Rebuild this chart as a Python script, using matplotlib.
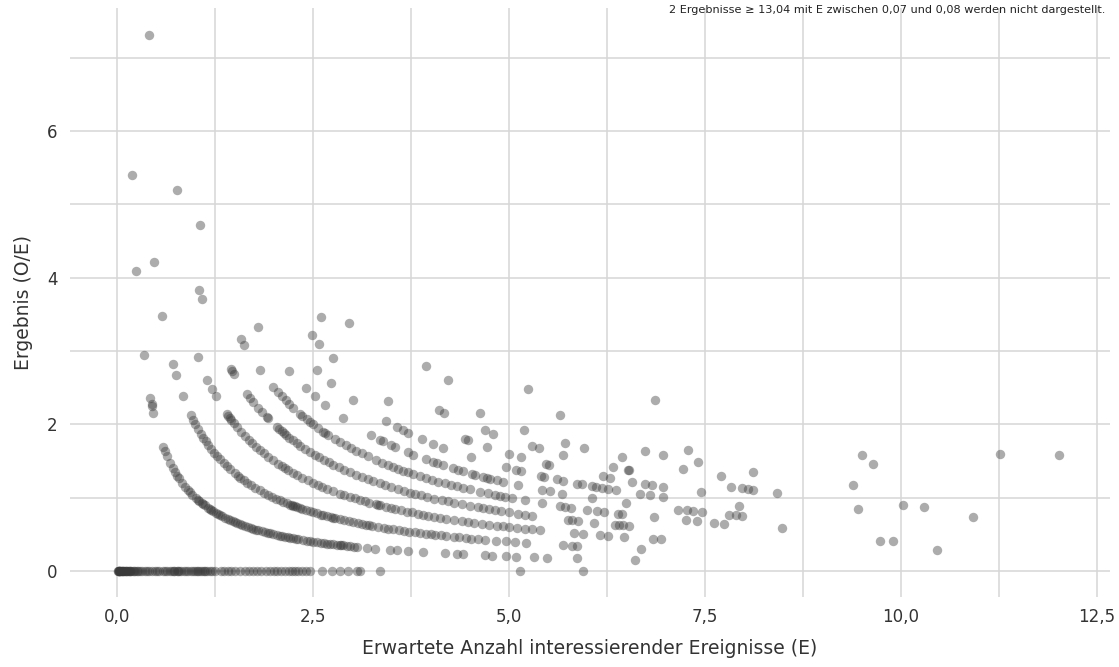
import matplotlib.pyplot as plt
from matplotlib.ticker import FuncFormatter, MultipleLocator
import numpy as np

plt.rcParams['font.family'] = ['DejaVu Sans']

# Expected counts (E) per observed count (O); the plotted result is O/E
e_o0 = [0.00, 0.00, 0.01, 0.01, 0.02, 0.02, 0.03, 0.03, 0.04, 0.04, 0.05, 0.06,
        0.06, 0.07, 0.08, 0.09, 0.10, 0.11, 0.12, 0.13, 0.14, 0.15, 0.16, 0.17,
        0.18, 0.20, 0.22, 0.23, 0.25, 0.27, 0.29, 0.32, 0.35, 0.38, 0.41, 0.44,
        0.48, 0.51, 0.54, 0.58, 0.61, 0.64, 0.67, 0.70, 0.72, 0.73, 0.76, 0.78,
        0.79, 0.82, 0.85, 0.88, 0.91, 0.94, 0.97, 1.00, 1.02, 1.03, 1.06, 1.09,
        1.11, 1.12, 1.15, 1.18, 1.21, 1.25, 1.32, 1.37, 1.41, 1.46, 1.51, 1.57,
        1.63, 1.68, 1.74, 1.79, 1.84, 1.90, 1.95, 2.00, 2.04, 2.09, 2.14, 2.19,
        2.23, 2.27, 2.31, 2.36, 2.41, 2.46, 2.61, 2.74, 2.84, 2.95, 3.06, 3.10,
        3.35, 5.14, 5.94]
e_o1 = [0.185, 0.244, 0.34, 0.425, 0.44, 0.445, 0.463, 0.59, 0.61, 0.64, 0.68,
        0.71, 0.74, 0.77, 0.79, 0.83, 0.87, 0.91, 0.93, 0.96, 1.01, 1.03, 1.05,
        1.08, 1.10, 1.12, 1.16, 1.18, 1.20, 1.22, 1.26, 1.29, 1.31, 1.34, 1.38,
        1.41, 1.44, 1.48, 1.50, 1.53, 1.57, 1.60, 1.63, 1.67, 1.71, 1.74, 1.77,
        1.80, 1.85, 1.89, 1.92, 1.95, 1.99, 2.04, 2.08, 2.11, 2.14, 2.18, 2.21,
        2.25, 2.28, 2.31, 2.37, 2.42, 2.46, 2.50, 2.55, 2.60, 2.64, 2.68, 2.72,
        2.76, 2.80, 2.84, 2.86, 2.88, 2.93, 2.97, 3.02, 3.06, 3.19, 3.29, 3.48,
        3.57, 3.71, 3.90, 4.18, 4.34, 4.41, 4.69, 4.78, 4.96, 5.09, 5.32, 5.48,
        5.87, 6.61]
e_o2 = [0.474, 0.575, 0.71, 0.75, 0.84, 0.94, 0.97, 1.00, 1.03, 1.07, 1.10,
        1.13, 1.16, 1.20, 1.24, 1.28, 1.31, 1.36, 1.40, 1.44, 1.50, 1.54, 1.57,
        1.62, 1.66, 1.71, 1.76, 1.82, 1.88, 1.93, 1.98, 2.03, 2.08, 2.12, 2.17,
        2.21, 2.23, 2.25, 2.27, 2.30, 2.33, 2.36, 2.41, 2.46, 2.50, 2.55, 2.60,
        2.63, 2.68, 2.73, 2.76, 2.78, 2.84, 2.90, 2.96, 3.01, 3.07, 3.12, 3.18,
        3.22, 3.25, 3.33, 3.40, 3.46, 3.52, 3.60, 3.66, 3.72, 3.80, 3.86, 3.94,
        4.00, 4.06, 4.13, 4.20, 4.30, 4.36, 4.45, 4.52, 4.60, 4.70, 4.83, 4.96,
        5.08, 5.22, 5.69, 5.80, 5.87, 6.68]
e_o3 = [0.41, 1.03, 1.15, 1.21, 1.26, 1.40, 1.42, 1.44, 1.46, 1.49, 1.53, 1.58,
        1.63, 1.68, 1.72, 1.77, 1.82, 1.87, 1.93, 1.99, 2.05, 2.10, 2.14, 2.18,
        2.24, 2.30, 2.36, 2.43, 2.50, 2.56, 2.62, 2.68, 2.75, 2.84, 2.90, 2.97,
        3.03, 3.10, 3.16, 3.22, 3.30, 3.33, 3.36, 3.43, 3.50, 3.55, 3.62, 3.70,
        3.76, 3.84, 3.90, 3.97, 4.05, 4.12, 4.20, 4.30, 4.40, 4.48, 4.55, 4.65,
        4.75, 4.85, 4.92, 5.00, 5.10, 5.20, 5.30, 5.40, 5.83, 5.94, 6.16, 6.26,
        6.47, 6.84, 6.94, 10.46]
e_o4 = [0.77, 1.045, 1.08, 1.45, 1.47, 1.49, 1.66, 1.70, 1.74, 1.80, 1.85, 1.91,
        1.92, 2.04, 2.07, 2.10, 2.13, 2.16, 2.20, 2.24, 2.29, 2.34, 2.40, 2.46,
        2.52, 2.58, 2.64, 2.70, 2.76, 2.83, 2.90, 2.97, 3.05, 3.12, 3.20, 3.27,
        3.35, 3.42, 3.50, 3.58, 3.66, 3.74, 3.80, 3.88, 3.95, 4.05, 4.15, 4.22,
        4.30, 4.40, 4.50, 4.60, 4.67, 4.75, 4.82, 4.90, 5.00, 5.12, 5.20, 5.30,
        5.75, 5.80, 5.88, 6.08, 6.35, 6.40, 6.45, 6.53, 9.74, 9.90]
e_o5 = [1.06, 1.58, 1.62, 1.82, 1.99, 2.05, 2.10, 2.15, 2.20, 2.25, 2.33, 2.36,
        2.42, 2.46, 2.50, 2.56, 2.63, 2.65, 2.69, 2.78, 2.85, 2.92, 2.98, 3.05,
        3.12, 3.20, 3.30, 3.38, 3.46, 3.52, 3.58, 3.65, 3.71, 3.78, 3.86, 3.94,
        4.02, 4.10, 4.18, 4.26, 4.34, 4.42, 4.50, 4.63, 4.73, 4.82, 4.89, 4.95,
        5.04, 5.20, 5.42, 5.65, 5.71, 5.79, 6.00, 6.12, 6.21, 6.39, 6.44, 6.85,
        7.26, 7.40, 7.62, 7.74, 8.48]
e_o6 = [1.80, 2.20, 2.41, 2.52, 2.65, 2.88, 3.24, 3.35, 3.39, 3.50, 3.55, 3.71,
        3.78, 3.94, 4.03, 4.08, 4.16, 4.29, 4.35, 4.41, 4.53, 4.57, 4.67, 4.72,
        4.76, 4.85, 4.92, 5.11, 5.42, 5.52, 5.68, 6.06, 6.50, 7.16, 7.27, 7.35,
        7.46, 7.81, 7.90, 7.98]
e_o7 = [2.55, 2.73, 3.01, 3.43, 3.57, 3.65, 3.71, 3.89, 4.03, 4.16, 4.51, 4.96,
        5.09, 5.15, 5.41, 5.45, 5.61, 5.69, 5.87, 5.93, 6.06, 6.11, 6.19, 6.26,
        6.36, 6.67, 6.80, 6.96, 7.93]
e_o8 = [2.49, 2.58, 2.76, 3.46, 4.44, 4.48, 4.72, 5.00, 5.15, 5.47, 5.51, 6.20,
        6.29, 6.57, 6.73, 6.82, 6.96, 7.45, 9.46, 10.92]
e_o9 = [2.60, 4.11, 4.17, 4.69, 4.80, 5.30, 5.38, 5.69, 6.33, 6.52, 6.53, 7.83,
        7.97, 8.05, 8.11, 8.42, 10.03, 10.30]
e_o10 = [2.96, 4.63, 5.19, 5.71, 5.96, 6.44, 7.22, 7.70]
e_o11 = [3.94, 4.22, 6.73, 6.96, 7.41, 8.12, 9.39]

# single results with higher observed counts
extra_e = [5.65, 7.28, 5.24, 9.64, 9.50, 6.86, 11.26, 12.02]
extra_o = [12, 12, 13, 14, 15, 16, 18, 19]

groups = [e_o0, e_o1, e_o2, e_o3, e_o4, e_o5, e_o6, e_o7, e_o8, e_o9, e_o10, e_o11]
expected = np.concatenate([np.array(g, dtype=float) for g in groups] + [np.array(extra_e)])
observed = np.concatenate([np.full(len(g), k, dtype=float) for k, g in enumerate(groups)]
                          + [np.array(extra_o, dtype=float)])
ratio = observed / expected

fig = plt.figure(figsize=(11.19, 6.67), dpi=100)
ax = fig.add_axes([0.0626, 0.105, 0.9294, 0.883])

ax.scatter(expected, ratio, s=46, color='#3a3a3a', alpha=0.42, linewidths=0, zorder=3)

ax.set_xlim(-0.6, 12.67)
ax.set_ylim(-0.355, 7.68)

ax.xaxis.set_major_locator(MultipleLocator(2.5))
ax.xaxis.set_minor_locator(MultipleLocator(1.25))
ax.yaxis.set_major_locator(MultipleLocator(2))
ax.yaxis.set_minor_locator(MultipleLocator(1))

comma = lambda fmt: FuncFormatter(lambda v, p: fmt.format(v).replace('.', ','))
ax.xaxis.set_major_formatter(comma('{:.1f}'))
ax.yaxis.set_major_formatter(comma('{:.0f}'))

ax.grid(True, which='both', color='#d6d6d6', linewidth=1.1, zorder=0)
ax.set_axisbelow(True)
for s in ax.spines.values():
    s.set_visible(False)
ax.tick_params(which='both', length=0, labelsize=12, labelcolor='#333333')
ax.tick_params(axis='x', pad=8)
ax.tick_params(axis='y', pad=9)

ax.set_xlabel('Erwartete Anzahl interessierender Ereignisse (E)', fontsize=13.5,
              color='#333333', labelpad=9)
ax.set_ylabel('Ergebnis (O/E)', fontsize=13.5, color='#333333', labelpad=10)

fig.text(0.9875, 0.992, '2 Ergebnisse \u2265 13,04 mit E zwischen 0,07 und 0,08 werden nicht dargestellt.',
         ha='right', va='top', fontsize=8.1, color='#222222')

fig.savefig('out.png', dpi=100, facecolor='white')
